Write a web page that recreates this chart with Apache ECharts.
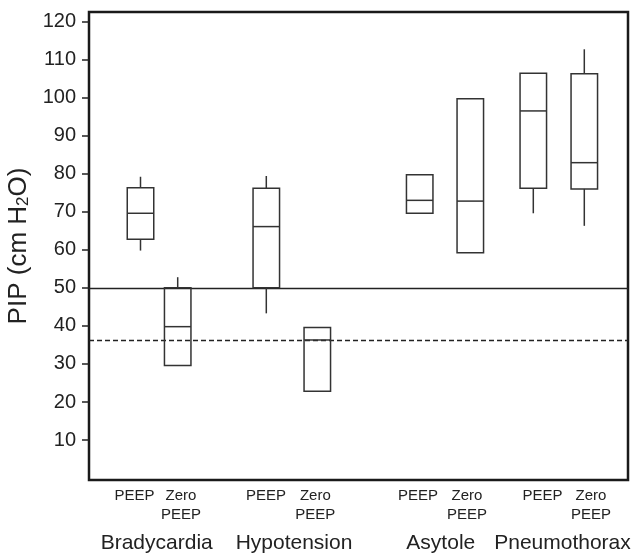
<!DOCTYPE html>
<html>
<head>
<meta charset="utf-8">
<script src="https://cdn.jsdelivr.net/npm/echarts@6/dist/echarts.min.js"></script>
<style>html,body{margin:0;padding:0;background:#fff;}#chart{width:635px;height:555px;}</style>
</head>
<body>
<div id="chart"></div>
<script>
// ---- data ----
const groups = ['Bradycardia', 'Hypotension', 'Asytole', 'Pneumothorax'];
const conditions = ['PEEP', 'Zero\nPEEP'];
// [low whisker, Q1, median, Q3, high whisker]
const peepBoxes = [
  [59.8, 62.8, 69.6, 76.3, 79.2],
  [43.3, 50.0, 66.1, 76.2, 79.4],
  [69.6, 69.6, 73.0, 79.7, 79.7],
  [69.6, 76.2, 96.5, 106.4, 106.4]
];
const zeroPeepBoxes = [
  [29.6, 29.6, 39.8, 50.0, 52.8],
  [22.8, 22.8, 36.3, 39.6, 39.6],
  [59.2, 59.2, 72.8, 99.7, 99.7],
  [66.3, 76.0, 82.9, 106.3, 112.7]
];
const yTicks = [10, 20, 30, 40, 50, 60, 70, 80, 90, 100, 110, 120];
const solidRef = 50;
const dashedRef = 36.3;

// ---- layout (x-axis units) ----
const xRange = [0, 539];
const peepX = [51.5, 177.3, 330.7, 444.3];
const zeroX = [88.7, 228.3, 381.3, 495.3];
const peepLabelX = [45.5, 177, 329, 453.5];
const zeroLabelX = [92, 226.3, 378, 502];
const groupLabelX = [67.7, 205, 351.8, 473.5];
const boxWidth = 26.5;

const boxData = [];
groups.forEach((g, i) => {
  boxData.push([peepX[i]].concat(peepBoxes[i]));
  boxData.push([zeroX[i]].concat(zeroPeepBoxes[i]));
});
const condLabelPos = [];
const condLabelText = [];
groups.forEach((g, i) => {
  condLabelPos.push(peepLabelX[i]); condLabelText.push(conditions[0]);
  condLabelPos.push(zeroLabelX[i]); condLabelText.push(conditions[1]);
});

function nearestIndex(arr, v) {
  let best = 0, d = Infinity;
  arr.forEach((a, i) => { const dd = Math.abs(a - v); if (dd < d) { d = dd; best = i; } });
  return best;
}

const font = 'Liberation Sans, Arial, Helvetica, sans-serif';
const ink = '#222';
const boxInk = '#333';

function renderBox(params, api) {
  const x = api.value(0);
  const lo = api.value(1), q1 = api.value(2), med = api.value(3), q3 = api.value(4), hi = api.value(5);
  const w = api.size([boxWidth, 0])[0];
  const pLo = api.coord([x, lo]), pQ1 = api.coord([x, q1]), pMed = api.coord([x, med]);
  const pQ3 = api.coord([x, q3]), pHi = api.coord([x, hi]);
  const cx = pMed[0];
  const st = { stroke: boxInk, lineWidth: 1.5, fill: null };
  const children = [];
  if (hi > q3) children.push({ type: 'line', shape: { x1: cx, y1: pQ3[1], x2: cx, y2: pHi[1] }, style: st });
  if (lo < q1) children.push({ type: 'line', shape: { x1: cx, y1: pQ1[1], x2: cx, y2: pLo[1] }, style: st });
  children.push({ type: 'rect', shape: { x: cx - w / 2, y: pQ3[1], width: w, height: pQ1[1] - pQ3[1] },
    style: { stroke: boxInk, lineWidth: 1.5, fill: 'none' } });
  children.push({ type: 'line', shape: { x1: cx - w / 2, y1: pMed[1], x2: cx + w / 2, y2: pMed[1] }, style: st });
  return { type: 'group', children: children };
}

const chart = echarts.init(document.getElementById('chart'), null, { renderer: 'canvas' });
chart.setOption({
  animation: false,
  backgroundColor: '#fff',
  grid: { left: 89, right: 7, top: 12, bottom: 75, outerBoundsMode: 'none', containLabel: false,
    show: true, borderColor: '#1a1a1a', borderWidth: 2.5, backgroundColor: 'transparent' },
  xAxis: [
    {
      type: 'value', min: xRange[0], max: xRange[1], position: 'bottom',
      axisLine: { show: false }, axisTick: { show: false, customValues: condLabelPos }, splitLine: { show: false },
      axisLabel: {
        show: true, customValues: condLabelPos, margin: 6,
        formatter: (v) => condLabelText[nearestIndex(condLabelPos, v)],
        fontFamily: font, fontSize: 15, lineHeight: 19, color: ink
      }
    },
    {
      type: 'value', min: xRange[0], max: xRange[1], position: 'bottom',
      axisLine: { show: false }, axisTick: { show: false, customValues: groupLabelX }, splitLine: { show: false },
      axisLabel: {
        show: true, customValues: groupLabelX, margin: 51,
        formatter: (v) => groups[nearestIndex(groupLabelX, v)],
        fontFamily: font, fontSize: 21, lineHeight: 24, color: ink
      }
    }
  ],
  yAxis: {
    type: 'value', min: -0.5, max: 122.5,
    name: 'PIP (cm H{s|2}O)', nameLocation: 'middle', nameGap: 50, nameRotate: 90,
    nameTextStyle: { fontFamily: font, fontSize: 26, color: ink,
      rich: { s: { fontFamily: font, fontSize: 17, lineHeight: 10, verticalAlign: 'bottom', color: ink } } },
    axisLine: { show: false },
    splitLine: { show: false },
    axisTick: { show: true, customValues: yTicks, length: 7, lineStyle: { color: ink, width: 1.5 } },
    axisLabel: { customValues: yTicks, margin: 13, fontFamily: font, fontSize: 20, color: ink }
  },
  series: [
    {
      type: 'line', data: [], z: 1, silent: true,
      markLine: {
        silent: true, symbol: 'none', z: 1, animation: false,
        label: { show: false },
        data: [
          { yAxis: solidRef, lineStyle: { type: 'solid', color: ink, width: 1.4 } },
          { yAxis: dashedRef, lineStyle: { type: [5, 3], color: ink, width: 1.4 } }
        ]
      }
    },
    {
      type: 'custom', z: 5, renderItem: renderBox, data: boxData,
      encode: { x: 0, y: [1, 2, 3, 4, 5] }, silent: true
    }
  ]
});
</script>
</body>
</html>
